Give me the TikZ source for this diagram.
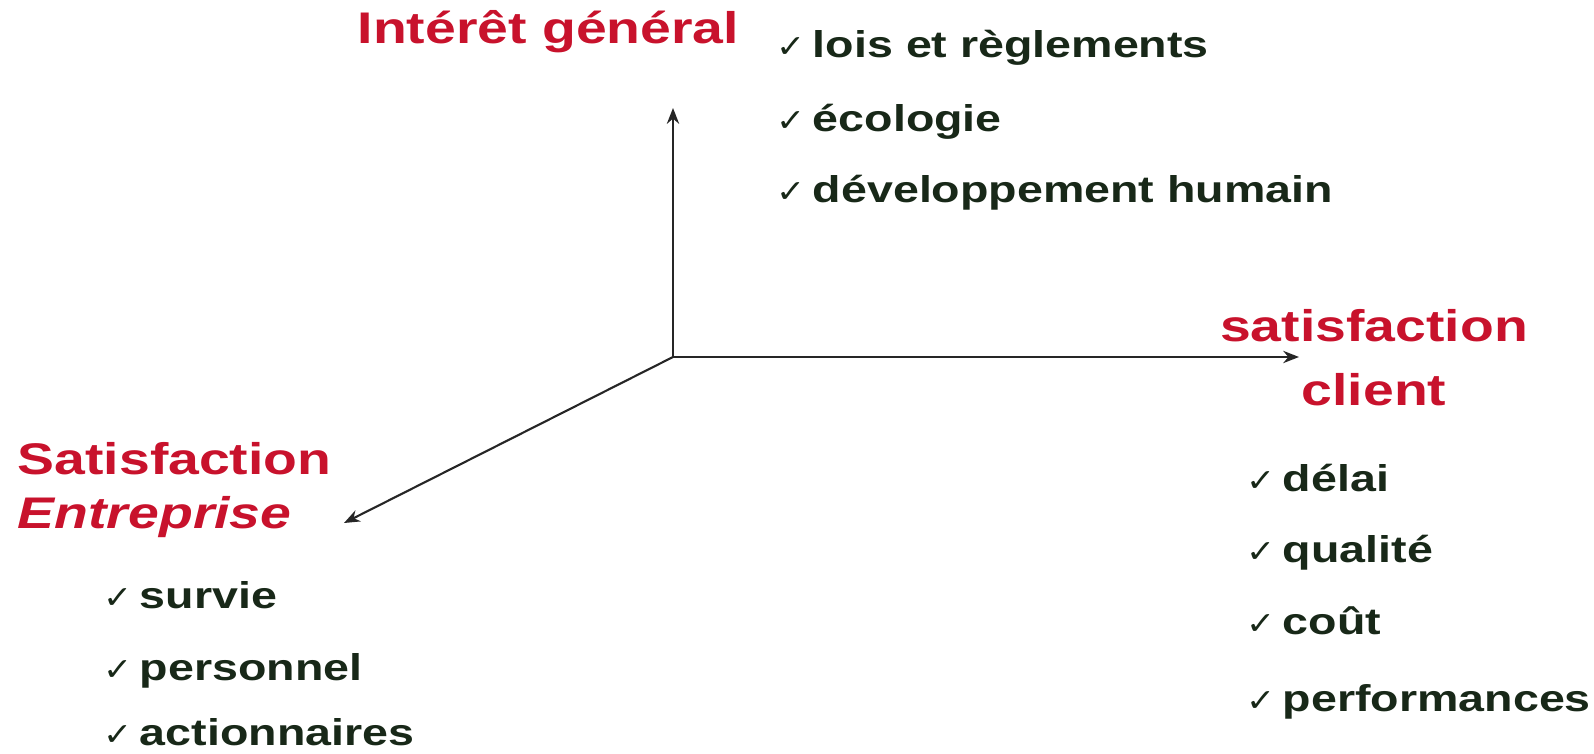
\documentclass[tikz,border=0pt]{standalone}
\usepackage{fontspec}
\setmainfont{Liberation Sans}[FakeStretch=1.25]
\newfontfamily\checkfont{DejaVu Sans}[FakeStretch=1.1]
\usetikzlibrary{arrows.meta}
\definecolor{rougetitre}{RGB}{200,18,44}
\definecolor{noirvert}{RGB}{24,40,24}
\tikzset{
  titre/.style={text=rougetitre, font=\bfseries\fontsize{12.6}{15.6}\selectfont, inner sep=0pt},
  critere/.style={text=noirvert, font=\bfseries\fontsize{10.6}{13}\selectfont, inner sep=0pt,
    anchor=west, text height=0.75em, text depth=0.2em},
  axe/.style={draw=black!85, line width=0.6pt, -{Stealth[length=4.5pt,width=3.5pt]}}
}
\newcommand{\coche}{{\checkfont\mdseries\small ✓}\hspace{2pt}}
\begin{document}
\begin{tikzpicture}
    \useasboundingbox (0,0) rectangle (15.94,7.53);

    % Axes
    \coordinate (o) at (6.73,3.96);
    \coordinate (haut) at (6.73,6.45);
    \coordinate (droite) at (12.99,3.96);
    \coordinate (gauche) at (3.44,2.30);
    \draw[axe] (o) -- (haut);
    \draw[axe] (o) -- (droite);
    \draw[axe] (o) -- (gauche);

    % Titres des axes
    \node[titre, anchor=west] (interet) at (3.57,7.21) {Intérêt général};
    \node[titre, align=center, font=\bfseries\fontsize{12.6}{18.2}\selectfont]
        (client) at (13.74,3.95) {satisfaction\\client};
    \node[titre, align=left, anchor=west] (entreprise) at (0.17,2.63)
        {Satisfaction\\\textit{Entreprise}};

    % Critères de l'intérêt général
    \node[critere] (lois) at (7.76,7.05) {\coche lois et règlements};
    \node[critere] (ecologie) at (7.76,6.31) {\coche écologie};
    \node[critere] (developpement) at (7.76,5.60) {\coche développement humain};

    % Critères du client
    \node[critere] (delai) at (12.46,2.71) {\coche délai};
    \node[critere] (qualite) at (12.46,2.00) {\coche qualité};
    \node[critere] (cout) at (12.46,1.28) {\coche coût};
    \node[critere] (performances) at (12.46,0.51) {\coche performances};

    % Critères de l'entreprise
    \node[critere] (survie) at (1.03,1.54) {\coche survie};
    \node[critere] (personnel) at (1.03,0.82) {\coche personnel};
    \node[critere] (actionnaires) at (1.03,0.17) {\coche actionnaires};
\end{tikzpicture}
\end{document}
